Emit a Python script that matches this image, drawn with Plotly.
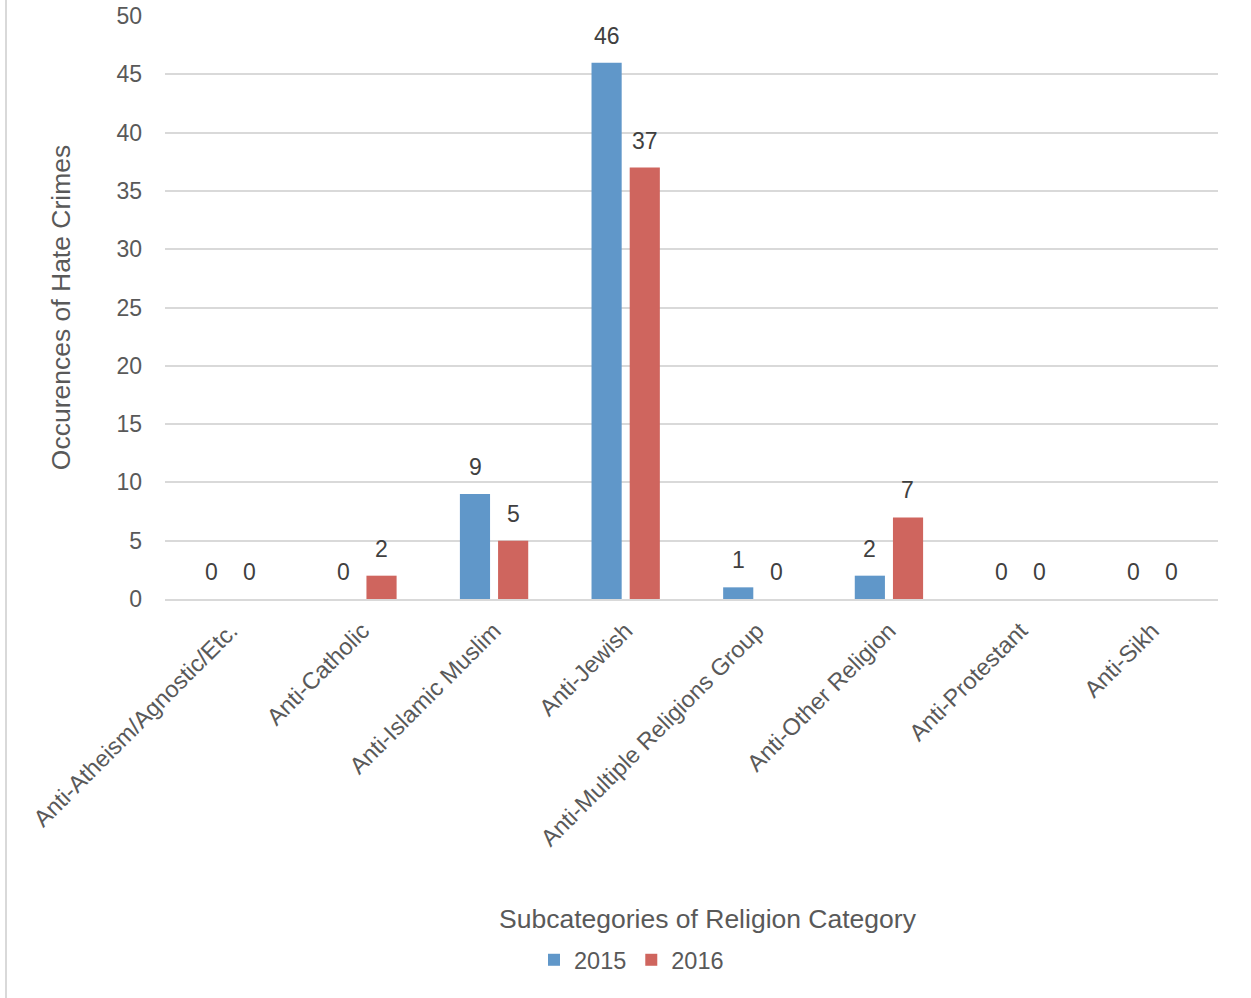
import plotly.graph_objects as go

categories = ["Anti-Atheism/Agnostic/Etc.", "Anti-Catholic", "Anti-Islamic Muslim",
              "Anti-Jewish", "Anti-Multiple Religions Group", "Anti-Other Religion",
              "Anti-Protestant", "Anti-Sikh"]
values_2015 = [0, 0, 9, 46, 1, 2, 0, 0]
values_2016 = [0, 2, 5, 37, 0, 7, 0, 0]
y_ticks = [0, 5, 10, 15, 20, 25, 30, 35, 40, 45, 50]

W, H = 1251, 998
ml, mr, mt, mb = 165, 33, 16, 399
pw = W - ml - mr
ph = H - mt - mb

FONT = "Liberation Sans, Arial, sans-serif"
GRID = "#d9d9d9"
TXT = "#595959"
LBL = "#404040"

fig = go.Figure()
fig.add_trace(go.Bar(name="2015", x=categories, y=values_2015, marker_color="#6097c9",
                     marker_line_width=0))
fig.add_trace(go.Bar(name="2016", x=categories, y=values_2016, marker_color="#cf655e",
                     marker_line_width=0))

# data labels, placed at each bar's value through the axes, shifted to its group slot
for series, dx in ((values_2015, -19), (values_2016, 19)):
    for cat, v in zip(categories, series):
        fig.add_annotation(x=cat, y=v, xref="x", yref="y", text=str(v), showarrow=False,
                           xshift=dx, yshift=27, xanchor="center", yanchor="middle",
                           font=dict(size=23, color=LBL, family=FONT))

fig.update_layout(
    width=W, height=H,
    margin=dict(l=ml, r=mr, t=mt, b=mb, autoexpand=False),
    paper_bgcolor="white", plot_bgcolor="white",
    barmode="group", bargap=0.42, bargroupgap=0.21,
    font=dict(family=FONT, color=TXT, size=23),
    showlegend=True,
    legend=dict(orientation="h", x=(534 - ml) / pw, xanchor="left",
                y=(mt + ph - 960) / ph, yanchor="middle",
                font=dict(size=23.5, color=TXT), itemwidth=30, tracegroupgap=0,
                bgcolor="rgba(0,0,0,0)"),
)
fig.update_yaxes(range=[0, 50], tickvals=y_ticks, showgrid=True, gridcolor=GRID, gridwidth=1.5,
                 zeroline=False, showline=False, tickfont=dict(size=23, color=TXT),
                 ticklabelstandoff=22,
                 title=dict(text="Occurences of Hate Crimes", font=dict(size=26.5, color=TXT),
                            standoff=38))
fig.update_xaxes(tickangle=-45, showgrid=False, showline=True, linecolor=GRID, linewidth=1.5,
                 tickfont=dict(size=23.5, color=TXT), ticklabelstandoff=7)

fig.add_annotation(text="Subcategories of Religion Category", xref="paper", yref="paper",
                   x=(708 - ml) / pw, y=(mt + ph - 919) / ph, xanchor="center", yanchor="middle",
                   showarrow=False, font=dict(size=26.5, color=TXT, family=FONT))

fig.add_shape(type="line", xref="paper", yref="paper",
              x0=(6 - ml) / pw, x1=(6 - ml) / pw, y0=(mt + ph - H) / ph, y1=(mt + ph) / ph,
              line=dict(color=GRID, width=2))

fig.write_html("out.html", config={"displayModeBar": False},
               post_script="document.body.style.margin='0';document.body.style.padding='0';")
